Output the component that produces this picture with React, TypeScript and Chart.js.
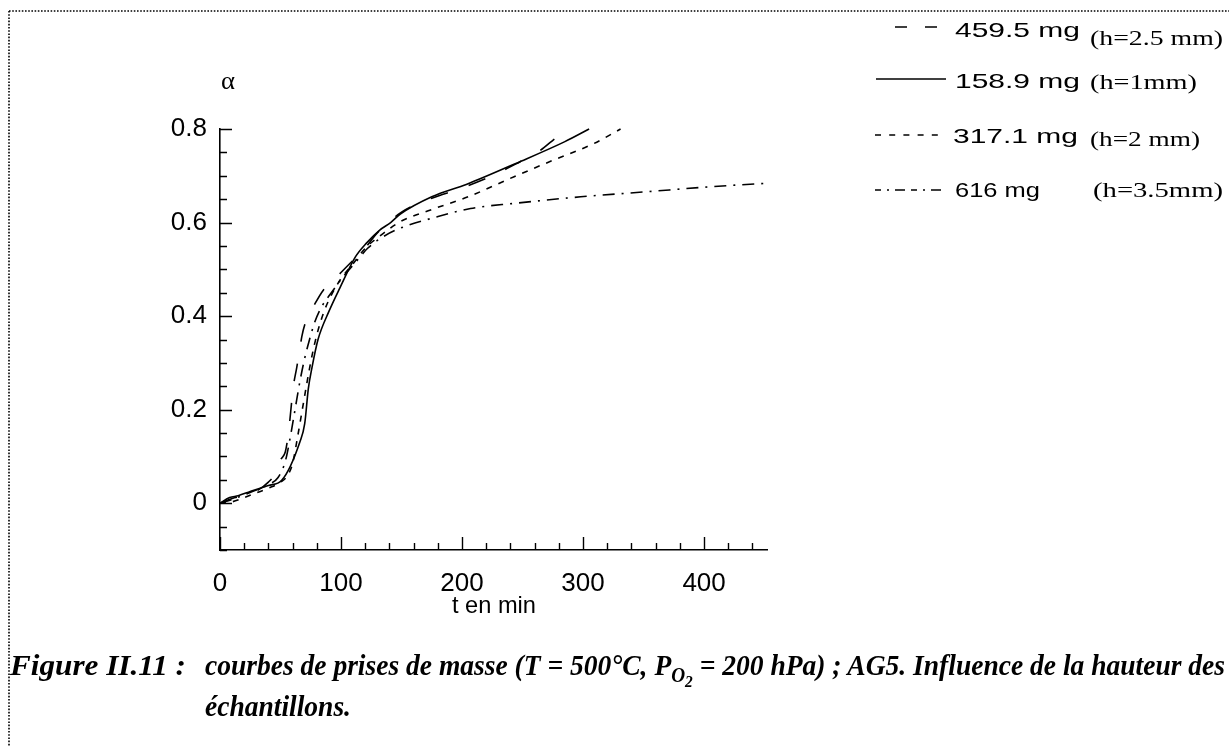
import React, { useEffect, useLayoutEffect, useRef } from "react";
import { Chart, registerables } from "chart.js";

Chart.register(...registerables);

// ---- data ----
const SERIES_MASS = ["459.5 mg", "158.9 mg", "317.1 mg", "616 mg"];
const SERIES_HEIGHT = ["(h=2.5 mm)", "(h=1mm)", "(h=2 mm)", "(h=3.5mm)"];

const T_459 = [0, 10, 25, 40, 48, 50, 54, 56.5, 60.6, 63.4, 66, 67.6, 70.3, 78.6, 85.5, 96.5, 107.5, 118.5, 130, 150, 175, 198, 225, 248, 263, 276, 286];
const A_459 = [0, 0.01, 0.02, 0.045, 0.074, 0.092, 0.11, 0.149, 0.249, 0.29, 0.33, 0.356, 0.384, 0.427, 0.456, 0.484, 0.513, 0.541, 0.578, 0.622, 0.652, 0.672, 0.7, 0.73, 0.751, 0.778, 0.8];

const T_158 = [0, 8, 15, 25, 40, 51, 66, 70, 73, 76, 81, 90, 99, 112, 121, 132, 141, 149, 175, 204, 245, 285, 305];
const A_158 = [0, 0.012, 0.016, 0.025, 0.038, 0.049, 0.131, 0.17, 0.245, 0.29, 0.35, 0.41, 0.46, 0.527, 0.556, 0.584, 0.6, 0.618, 0.655, 0.682, 0.727, 0.773, 0.8];

const T_317 = [0, 10, 20, 30, 40, 50, 56, 60, 64, 68, 72, 76, 80, 86, 92, 100, 110, 120, 135, 149, 174, 205, 243, 276, 309, 331];
const A_317 = [0, 0.003, 0.012, 0.022, 0.032, 0.045, 0.06, 0.085, 0.14, 0.2, 0.26, 0.315, 0.36, 0.41, 0.445, 0.48, 0.512, 0.545, 0.577, 0.602, 0.627, 0.655, 0.698, 0.734, 0.769, 0.8];

const T_616 = [0, 10, 20, 30, 40, 48, 54, 58, 62, 66, 70, 74, 78, 84, 92, 102, 112, 122, 135, 149, 179, 207, 243, 298, 353, 408, 452];
const A_616 = [0, 0.008, 0.018, 0.028, 0.04, 0.055, 0.09, 0.14, 0.2, 0.26, 0.31, 0.35, 0.385, 0.42, 0.45, 0.485, 0.515, 0.545, 0.57, 0.588, 0.612, 0.63, 0.641, 0.655, 0.666, 0.677, 0.684];

const X_MIN = 0;
const X_MAX = 452;
const X_STEP = 20;
const Y_MIN = -0.1;
const Y_MAX = 0.8;
const Y_STEP = 0.05;

// ---- styles ----
const DASHES: number[][] = [[18, 22], [], [6, 7], [12, 7, 2, 7]];
const SANS = "'Liberation Sans', Arial, Helvetica, sans-serif";
const SERIF = "'Liberation Serif', 'Times New Roman', serif";

const toPoints = (t: number[], a: number[]) => t.map((v, i) => ({ x: v, y: a[i] }));

function FitText(props: {
  x: number; baseline: number; width: number; size: number;
  serif?: boolean; bold?: boolean; italic?: boolean; children: React.ReactNode;
}) {
  const ref = useRef<HTMLSpanElement>(null);
  useLayoutEffect(() => {
    const el = ref.current;
    if (!el) return;
    el.style.transform = "none";
    const w = el.getBoundingClientRect().width;
    if (w > 0) el.style.transform = `scaleX(${props.width / w})`;
  }, []);
  const k = props.serif ? 0.8375 : 0.8465;
  return (
    <span
      ref={ref}
      style={{
        position: "absolute",
        left: props.x,
        top: props.baseline - k * props.size,
        fontSize: props.size,
        lineHeight: `${props.size}px`,
        fontFamily: props.serif ? SERIF : SANS,
        fontWeight: props.bold ? "bold" : "normal",
        fontStyle: props.italic ? "italic" : "normal",
        whiteSpace: "nowrap",
        transformOrigin: "left top",
        color: "#000",
      }}
    >
      {props.children}
    </span>
  );
}

function ChartCanvas() {
  const ref = useRef<HTMLCanvasElement>(null);
  useEffect(() => {
    const decor = {
      id: "decor",
      beforeDraw(chart: any) {
        const ctx = chart.ctx;
        ctx.save();
        ctx.strokeStyle = "#000";
        ctx.lineWidth = 1.6;
        ctx.setLineDash([1.6, 1.6]);
        ctx.beginPath();
        ctx.moveTo(9, 11);
        ctx.lineTo(1229, 11);
        ctx.moveTo(9, 11);
        ctx.lineTo(9, 747);
        ctx.stroke();
        ctx.restore();
      },
      afterDraw(chart: any) {
        const ctx = chart.ctx;
        const xs = chart.scales.x;
        const ys = chart.scales.y;
        const area = chart.chartArea;
        ctx.save();
        ctx.strokeStyle = "#000";
        ctx.lineWidth = 1.4;
        ctx.setLineDash([]);
        ctx.beginPath();
        for (const t of xs.ticks) {
          const px = Math.round(xs.getPixelForValue(t.value)) + 0.5;
          const major = Math.round(t.value) % 100 === 0;
          const len = major ? 13 : 7;
          ctx.moveTo(px, area.bottom);
          ctx.lineTo(px, area.bottom - len);
        }
        for (const t of ys.ticks) {
          const py = Math.round(ys.getPixelForValue(t.value)) + 0.5;
          const r = Math.round(t.value * 100);
          const major = r % 20 === 0;
          const len = major ? 12 : 7;
          ctx.moveTo(area.left, py);
          ctx.lineTo(area.left + len, py);
        }
        ctx.stroke();
        // legend samples
        const rows = [
          { x0: 895, x1: 938, y: 27 },
          { x0: 876, x1: 946, y: 79 },
          { x0: 875, x1: 946, y: 135 },
          { x0: 875, x1: 946, y: 190 },
        ];
        const legDash: number[][] = [[12, 18], [], [6, 8.2], [6, 6, 2, 6, 10, 6]];
        rows.forEach((r, i) => {
          ctx.beginPath();
          ctx.lineWidth = 1.6;
          ctx.setLineDash(legDash[i]);
          ctx.moveTo(r.x0, r.y);
          ctx.lineTo(r.x1, r.y);
          ctx.stroke();
        });
        ctx.restore();
      },
    };

    const tickFont = { family: SANS, size: 26 };
    const chart = new Chart(ref.current as HTMLCanvasElement, {
      type: "line",
      data: {
        datasets: [
          { label: SERIES_MASS[0], data: toPoints(T_459, A_459), borderDash: DASHES[0] },
          { label: SERIES_MASS[1], data: toPoints(T_158, A_158), borderDash: DASHES[1] },
          { label: SERIES_MASS[2], data: toPoints(T_317, A_317), borderDash: DASHES[2] },
          { label: SERIES_MASS[3], data: toPoints(T_616, A_616), borderDash: DASHES[3] },
        ].map((d) => ({
          ...d,
          borderColor: "#000",
          borderWidth: 1.6,
          pointRadius: 0,
          fill: false,
          cubicInterpolationMode: "monotone" as const,
          clip: 4,
        })),
      },
      options: {
        animation: false,
        responsive: false,
        maintainAspectRatio: false,
        devicePixelRatio: 1,
        events: [],
        layout: { padding: { left: 0, top: 129, right: 1229 - 767, bottom: 0 } },
        plugins: { legend: { display: false }, tooltip: { enabled: false }, title: { display: false } },
        scales: {
          x: {
            type: "linear",
            min: X_MIN,
            max: X_MAX,
            grid: { display: false, drawTicks: false },
            border: { display: true, color: "#000", width: 1.6 },
            ticks: {
              stepSize: X_STEP,
              includeBounds: false,
              autoSkip: false,
              maxRotation: 0,
              padding: 18,
              color: "#000",
              font: tickFont,
              callback: (v: any) => (Math.round(v) % 100 === 0 ? String(Math.round(v)) : ""),
            },
            afterFit: (s: any) => {
              s.height = 197;
            },
          },
          y: {
            type: "linear",
            min: Y_MIN,
            max: Y_MAX,
            grid: { display: false, drawTicks: false },
            border: { display: true, color: "#000", width: 1.6 },
            ticks: {
              stepSize: Y_STEP,
              includeBounds: false,
              autoSkip: false,
              padding: 13,
              color: "#000",
              font: tickFont,
              callback: (v: any) => {
                const r = Math.round(v * 100);
                return r % 20 === 0 && r >= 0 ? String(r / 100) : "";
              },
            },
            afterFit: (s: any) => {
              s.width = 220;
            },
          },
        },
      },
      plugins: [decor],
    } as any);
    return () => chart.destroy();
  }, []);
  return <canvas ref={ref} width={1229} height={747} style={{ position: "absolute", left: 0, top: 0 }} />;
}

export default function App() {
  return (
    <div style={{ position: "fixed", left: 0, top: 0, width: 1229, height: 747, background: "#fff", overflow: "hidden" }}>
      <ChartCanvas />
      {/* axis titles */}
      <FitText x={221} baseline={88.5} width={14} size={25} serif>α</FitText>
      <FitText x={452} baseline={613} width={84} size={24}>t en min</FitText>
      {/* legend texts */}
      <FitText x={955} baseline={36.7} width={125} size={21}>{SERIES_MASS[0]}</FitText>
      <FitText x={1090} baseline={45.8} width={133} size={21} serif>{SERIES_HEIGHT[0]}</FitText>
      <FitText x={955} baseline={87.3} width={125} size={21}>{SERIES_MASS[1]}</FitText>
      <FitText x={1090} baseline={89.8} width={107} size={21} serif>{SERIES_HEIGHT[1]}</FitText>
      <FitText x={953} baseline={143} width={125} size={21}>{SERIES_MASS[2]}</FitText>
      <FitText x={1090} baseline={146.5} width={110} size={21} serif>{SERIES_HEIGHT[2]}</FitText>
      <FitText x={955} baseline={197} width={85} size={21}>{SERIES_MASS[3]}</FitText>
      <FitText x={1093} baseline={198} width={130} size={21} serif>{SERIES_HEIGHT[3]}</FitText>
      {/* caption */}
      <FitText x={10} baseline={675} width={176} size={29} serif bold italic>Figure II.11 :</FitText>
      <FitText x={205} baseline={675} width={1020} size={29} serif bold italic>
        courbes de prises de masse (T = 500°C, P
        <sub style={{ lineHeight: 0, fontSize: "0.7em" }}>
          O<sub style={{ lineHeight: 0, fontSize: "0.8em" }}>2</sub>
        </sub>{" "}
        = 200 hPa) ; AG5. Influence de la hauteur des
      </FitText>
      <FitText x={205} baseline={716} width={146} size={29} serif bold italic>échantillons.</FitText>
    </div>
  );
}
